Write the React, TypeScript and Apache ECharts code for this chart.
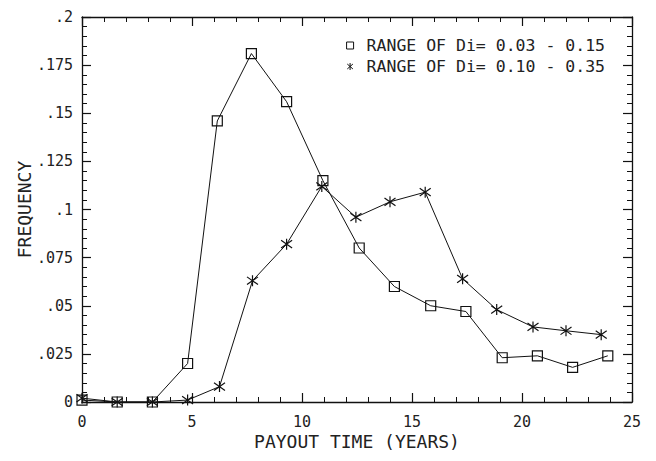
import React, { useEffect, useRef } from "react";
import * as echarts from "echarts";

const seriesNames = ["RANGE OF Di= 0.03 - 0.15", "RANGE OF Di= 0.10 - 0.35"];
const squareX = [0, 1.6, 3.2, 4.8, 6.15, 7.7, 9.3, 10.95, 12.6, 14.2, 15.85, 17.45, 19.1, 20.7, 22.3, 23.9];
const squareY = [0.001, 0, 0, 0.02, 0.146, 0.181, 0.156, 0.115, 0.08, 0.06, 0.05, 0.047, 0.023, 0.024, 0.018, 0.024];
const starX = [0, 1.6, 3.2, 4.8, 6.25, 7.75, 9.3, 10.9, 12.45, 14.0, 15.6, 17.3, 18.85, 20.5, 22.0, 23.6];
const starY = [0.002, 0, 0, 0.001, 0.008, 0.063, 0.082, 0.112, 0.096, 0.104, 0.109, 0.064, 0.048, 0.039, 0.037, 0.035];
const yTickLabels = ["0", ".025", ".05", ".075", ".1", ".125", ".15", ".175", ".2"];
const xTickLabels = ["0", "5", "10", "15", "20", "25"];

const FONT = "DejaVu Sans Mono";
const INK = "#111";
const STAR = "path://M5,0L5,10M1,1.5L9,8.5M1,8.5L9,1.5";

export default function App() {
  const ref = useRef<HTMLDivElement>(null);
  useEffect(() => {
    if (!ref.current) return;
    const chart = echarts.init(ref.current, null, { renderer: "svg" });
    const axisCommon = {
      axisLine: { show: true, onZero: false, lineStyle: { color: INK, width: 1.3 } },
      axisTick: { show: true, inside: true, length: 9, lineStyle: { color: INK, width: 1.2 } },
      minorTick: { show: true, splitNumber: 5, length: 5, lineStyle: { color: INK, width: 1 } },
      splitLine: { show: false },
      minorSplitLine: { show: false },
    };
    chart.setOption({
      animation: false,
      backgroundColor: "#fff",
      grid: { left: 82, right: 24, top: 17, bottom: 59 },
      legend: {
        orient: "vertical",
        right: 46,
        top: 32,
        itemWidth: 7,
        itemHeight: 7,
        itemGap: 4,
        data: [
          { name: seriesNames[0], icon: "rect" },
          { name: seriesNames[1], icon: STAR },
        ],
        itemStyle: { color: "rgba(0,0,0,0)", borderColor: INK, borderWidth: 1 },
        textStyle: { fontFamily: FONT, fontSize: 16.5, color: "#222", padding: [0, 0, 0, 8] },
      },
      xAxis: [
        {
          type: "value",
          min: 0,
          max: 25,
          interval: 5,
          ...axisCommon,
          name: "PAYOUT TIME (YEARS)",
          nameLocation: "middle",
          nameGap: 30,
          nameMoveOverlap: false,
          nameTextStyle: { fontFamily: FONT, fontSize: 18, color: "#222" },
          axisLabel: {
            margin: 12,
            fontFamily: FONT,
            fontSize: 15,
            color: "#222",
            formatter: (v: number) => xTickLabels[Math.round(v / 5)] ?? "",
          },
        },
        {
          type: "value",
          position: "top",
          min: 0,
          max: 25,
          interval: 5,
          ...axisCommon,
          axisLabel: { show: false },
        },
      ],
      yAxis: [
        {
          type: "value",
          min: 0,
          max: 0.2,
          interval: 0.025,
          ...axisCommon,
          name: "FREQUENCY",
          nameLocation: "middle",
          nameGap: 49,
          nameMoveOverlap: false,
          nameTextStyle: { fontFamily: FONT, fontSize: 18, color: "#222" },
          axisLabel: {
            margin: 9,
            fontFamily: FONT,
            fontSize: 15,
            color: "#222",
            formatter: (v: number) => yTickLabels[Math.round(v / 0.025)] ?? "",
          },
        },
        {
          type: "value",
          position: "right",
          min: 0,
          max: 0.2,
          interval: 0.025,
          ...axisCommon,
          axisLabel: { show: false },
        },
      ],
      series: [
        {
          name: seriesNames[0],
          type: "line",
          xAxisIndex: 0,
          yAxisIndex: 0,
          data: squareX.map((x, i) => [x, squareY[i]]),
          symbol: "rect",
          symbolSize: 10,
          showAllSymbol: true,
          lineStyle: { color: INK, width: 1 },
          itemStyle: { color: "rgba(0,0,0,0)", borderColor: INK, borderWidth: 1.2 },
        },
        {
          name: seriesNames[1],
          type: "line",
          xAxisIndex: 0,
          yAxisIndex: 0,
          data: starX.map((x, i) => [x, starY[i]]),
          symbol: STAR,
          symbolSize: 11,
          showAllSymbol: true,
          lineStyle: { color: INK, width: 1 },
          itemStyle: { color: INK, borderColor: INK, borderWidth: 1.2 },
        },
      ],
    });
    return () => chart.dispose();
  }, []);
  return (
    <div
      ref={ref}
      style={{ position: "absolute", left: 0, top: 0, width: 656, height: 461 }}
    />
  );
}
